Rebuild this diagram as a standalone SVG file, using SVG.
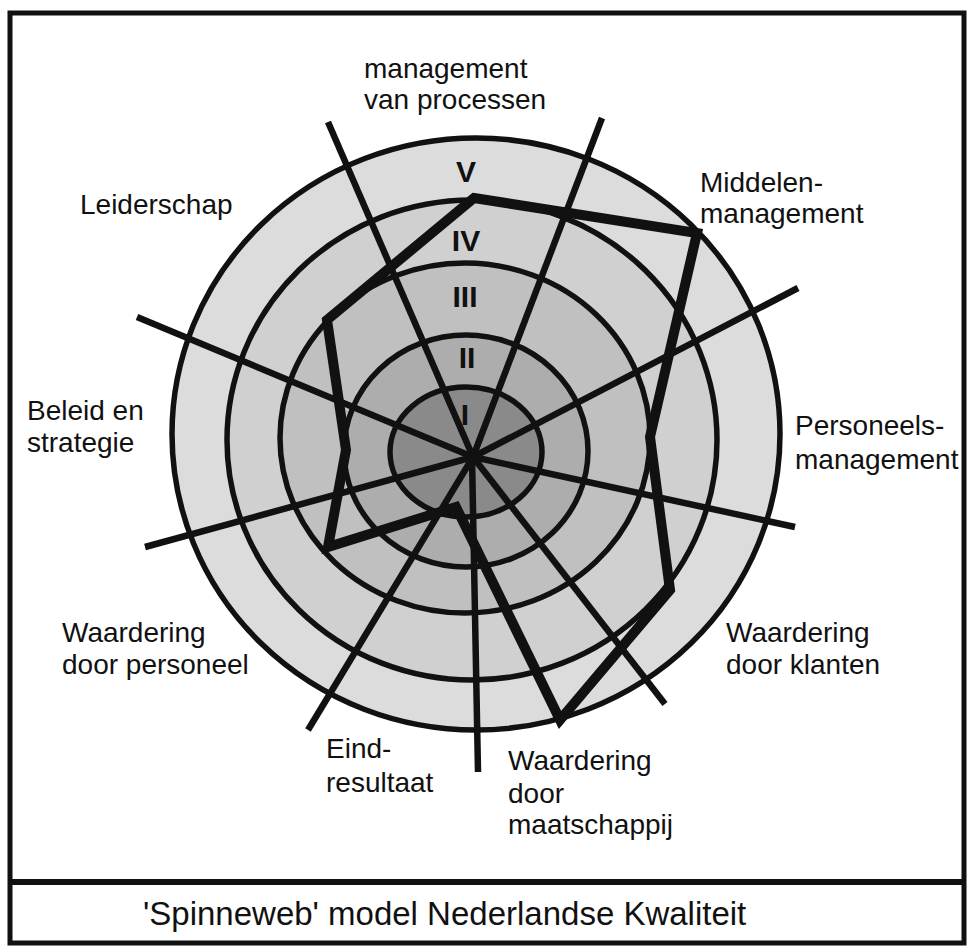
<svg xmlns="http://www.w3.org/2000/svg" width="967" height="946" viewBox="0 0 967 946">
<style>
.lbl{font-family:"Liberation Sans",Arial,sans-serif;font-size:28px;fill:#111}
.num{font-family:"Liberation Sans",Arial,sans-serif;font-size:30px;font-weight:bold;fill:#111;text-anchor:middle}
.ring{stroke:#111;stroke-width:5.5}
.spoke{stroke:#111;stroke-width:6.5;stroke-linecap:butt;fill:none}
.profile{stroke:#111;stroke-width:10;stroke-linejoin:miter;fill:none}
.title{font-family:"Liberation Sans",Arial,sans-serif;font-size:33px;fill:#111}
</style>
<rect x="0" y="0" width="967" height="946" fill="#fff"/>
<g id="frame" fill="none" stroke="#111">
  <rect x="10" y="13" width="954" height="930" stroke-width="5"/>
  <line x1="10" y1="882" x2="964" y2="882" stroke-width="6"/>
</g>
<g id="rings">
  <ellipse id="ring-V" class="ring" cx="476" cy="434" rx="304" ry="296" fill="#dcdcdc"/>
  <ellipse id="ring-IV" class="ring" cx="472" cy="440" rx="245" ry="240" fill="#d0d0d0"/>
  <ellipse id="ring-III" class="ring" cx="465" cy="438" rx="185" ry="175" fill="#c0c0c0"/>
  <ellipse id="ring-II" class="ring" cx="466" cy="451" rx="122" ry="116" fill="#adadad"/>
  <ellipse id="ring-I" class="ring" cx="466" cy="452" rx="76" ry="65" fill="#8a8a8a"/>
</g>
<g id="connectors">
  <line class="spoke" x1="473" y1="457" x2="328" y2="122"/>
  <line class="spoke" x1="473" y1="457" x2="602" y2="118"/>
  <line class="spoke" x1="473" y1="457" x2="798" y2="288"/>
  <line class="spoke" x1="473" y1="457" x2="795" y2="527"/>
  <line class="spoke" x1="473" y1="457" x2="665" y2="704"/>
  <line class="spoke" x1="472" y1="457" x2="478" y2="772"/>
  <line class="spoke" x1="473" y1="457" x2="308" y2="730"/>
  <line class="spoke" x1="473" y1="457" x2="145" y2="547"/>
  <line class="spoke" x1="473" y1="457" x2="137" y2="317"/>
  <polygon id="profile" class="profile" points="474,198 697,233 650,437 670,590 560,720 456,507 328,547 346,450 327,320"/>
</g>
<g id="numerals">
  <text class="num" x="466" y="182">V</text>
  <text class="num" x="466" y="251">IV</text>
  <text class="num" x="465" y="307">III</text>
  <text class="num" x="467" y="368">II</text>
  <text class="num" x="465" y="425">I</text>
</g>
<g id="label-processen"><text class="lbl" x="364" y="78">management</text><text class="lbl" x="364" y="109">van processen</text></g>
<g id="label-middelen"><text class="lbl" x="700" y="192">Middelen-</text><text class="lbl" x="700" y="223">management</text></g>
<g id="label-leiderschap"><text class="lbl" x="80" y="214">Leiderschap</text></g>
<g id="label-beleid"><text class="lbl" x="27" y="420">Beleid en</text><text class="lbl" x="27" y="452">strategie</text></g>
<g id="label-personeel-mgmt"><text class="lbl" x="795" y="435">Personeels-</text><text class="lbl" x="795" y="469">management</text></g>
<g id="label-klanten"><text class="lbl" x="726" y="642">Waardering</text><text class="lbl" x="726" y="674">door klanten</text></g>
<g id="label-maatschappij"><text class="lbl" x="508" y="770">Waardering</text><text class="lbl" x="508" y="803">door</text><text class="lbl" x="508" y="834">maatschappij</text></g>
<g id="label-eindresultaat"><text class="lbl" x="326" y="758">Eind-</text><text class="lbl" x="326" y="792">resultaat</text></g>
<g id="label-personeel"><text class="lbl" x="62" y="642">Waardering</text><text class="lbl" x="62" y="674">door personeel</text></g>
<g id="title"><text class="title" x="143" y="925">'Spinneweb' model Nederlandse Kwaliteit</text></g>
</svg>
